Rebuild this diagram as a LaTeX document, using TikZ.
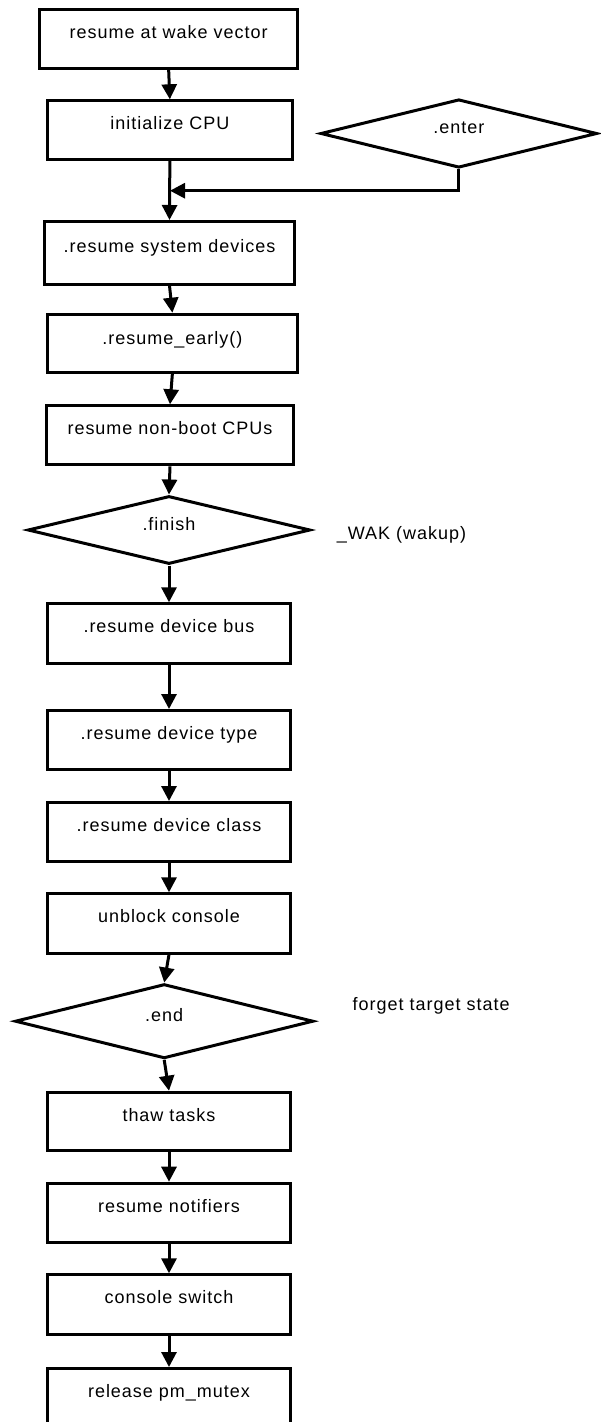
\documentclass[tikz,border=0pt]{standalone}
\usepackage{fontspec}
\setmainfont{Liberation Sans}[LetterSpace=5.5]
\usetikzlibrary{arrows.meta,shapes.geometric}
\tikzset{
  txt/.style={font=\fontsize{18}{21}\selectfont},
  stepbox/.style={txt, draw=black, line width=3pt, inner sep=0pt, anchor=north west, text height=29pt},
  dia/.style={txt, draw=black, diamond, line width=3pt, inner sep=0pt, text height=6pt, text depth=6pt},
  arr/.style={line width=3pt, -{Triangle[width=15pt,length=15pt]}},
  lbl/.style={txt, inner sep=0pt, anchor=base west}
}
\begin{document}
\begin{tikzpicture}[x=1pt,y=-1pt]
\useasboundingbox (0,0) rectangle (600,1422);
% boxes
\node[stepbox, minimum width=257.7pt, minimum height=58.4pt, text height=28.4pt, text depth=30pt] (b1) at (38.3,8.3) {resume at wake vector};
\node[stepbox, minimum width=244.7pt, minimum height=58.4pt, text depth=29.4pt] (b2) at (46,99.3) {initialize CPU};
\node[stepbox, minimum width=250.6pt, minimum height=62.7pt, text height=31pt, text depth=31.7pt] (b3) at (42.7,220) {.resume system devices};
\node[stepbox, minimum width=250.3pt, minimum height=58.3pt, text height=30.5pt, text depth=27.8pt] (b4) at (45.7,312.7) {.resume\_early()};
\node[stepbox, minimum width=246.4pt, minimum height=59pt, text depth=30pt] (b5) at (45.3,404.3) {resume non-boot CPUs};
\node[stepbox, minimum width=243.6pt, minimum height=59.4pt, text depth=30.4pt] (b6) at (45.7,602.3) {.resume device bus};
\node[stepbox, minimum width=243.6pt, minimum height=59.3pt, text depth=30.3pt] (b7) at (45.7,709) {.resume device type};
\node[stepbox, minimum width=243.6pt, minimum height=59pt, text depth=30pt] (b8) at (45.7,801) {.resume device class};
\node[stepbox, minimum width=243.6pt, minimum height=59.2pt, text depth=30.2pt] (b9) at (45.7,892.3) {unblock console};
\node[stepbox, minimum width=243.6pt, minimum height=58.6pt, text depth=29.6pt] (b10) at (45.7,1090.7) {thaw tasks};
\node[stepbox, minimum width=243.6pt, minimum height=59.3pt, text depth=30.3pt] (b11) at (45.7,1181.7) {resume notifiers};
\node[stepbox, minimum width=243.6pt, minimum height=59.4pt, text depth=30.4pt] (b12) at (45.7,1273.3) {console switch};
\node[stepbox, minimum width=243.6pt, minimum height=59pt, text depth=30pt] (b13) at (45.7,1367) {release pm\_mutex};
% diamonds
\node[dia, minimum width=276.5pt, minimum height=68.4pt] (dEnter) at (458.8,133.5) {.enter};
\node[dia, minimum width=282.6pt, minimum height=68pt] (dFinish) at (169,530) {.finish};
\node[dia, minimum width=298.3pt, minimum height=74.3pt] (dEnd) at (164.2,1021.2) {.end};
% labels
\node[lbl] (wak) at (336.7,539) {\_WAK (wakup)};
\node[lbl] (forget) at (352.4,1010.7) {forget target state};
% connectors
\coordinate (join) at (170,190.7);
\draw[arr] (b1.south) -- (b2.north);
\draw[arr] (b2.south) -- (b3.north);
\draw[arr] (dEnter.south) |- (join);
\draw[arr] (b3.south) -- (b4.north);
\draw[arr] (b4.south) -- (b5.north);
\draw[arr] (b5.south) -- (dFinish.north);
\draw[arr] (dFinish.south) -- (b6.north);
\draw[arr] (b6.south) -- (b7.north);
\draw[arr] (b7.south) -- (b8.north);
\draw[arr] (b8.south) -- (b9.north);
\draw[arr] (b9.south) -- (dEnd.north);
\draw[arr] (dEnd.south) -- (b10.north);
\draw[arr] (b10.south) -- (b11.north);
\draw[arr] (b11.south) -- (b12.north);
\draw[arr] (b12.south) -- (b13.north);
\end{tikzpicture}
\end{document}
